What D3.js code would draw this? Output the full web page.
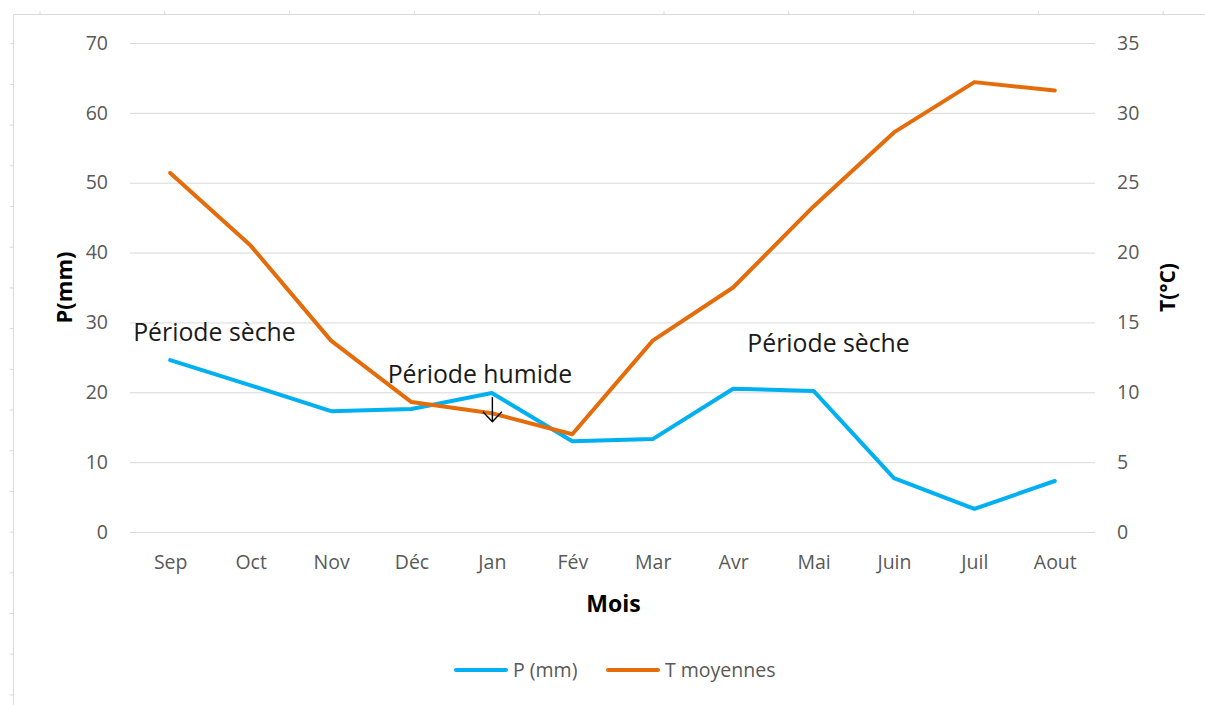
<!DOCTYPE html>
<html>
<head>
<meta charset="utf-8">
<script src="https://cdn.jsdelivr.net/npm/d3@7"></script>
<style>
  body { margin: 0; background: #fff; }
  svg text { font-family: "Open Sans", "Noto Sans", sans-serif; }
</style>
</head>
<body>
<div id="chart"></div>
<script>
const months = ["Sep", "Oct", "Nov", "Déc", "Jan", "Fév", "Mar", "Avr", "Mai", "Juin", "Juil", "Aout"]
const precip = [24.6, 21.0, 17.3, 17.6, 19.9, 13.0, 13.3, 20.5, 20.2, 7.7, 3.3, 7.3]
const temp = [25.7, 20.5, 13.7, 9.3, 8.5, 7.0, 13.7, 17.5, 23.3, 28.6, 32.2, 31.6]
const leftTicks = [0, 10, 20, 30, 40, 50, 60, 70]
const rightTicks = [0, 5, 10, 15, 20, 25, 30, 35]
// annotation baselines are given in P (mm) units
const notes = [
    {text: "Période sèche", month: "Sep", value: 27.3, anchor: "start", dx: -37},
    {text: "Période humide", month: "Jan", value: 21.3, anchor: "middle", dx: -12},
    {text: "Période sèche", month: "Mai", value: 25.8, anchor: "middle", dx: 15}
]

const W = 1205, H = 705
const margin = {top: 43, right: 110, bottom: 173, left: 130}
const width = W - margin.left - margin.right
const height = H - margin.top - margin.bottom

const blue = "#00b0f0"
const orange = "#e46c0a"
const grey = "#595959"
const tickFont = "19.5px"

const root = d3.select("#chart").append("svg")
    .attr("width", W)
    .attr("height", H)

// spreadsheet frame behind the chart
const frame = root.append("g").attr("stroke", "#d9d9d9").attr("fill", "none")
frame.append("path").attr("d", `M13.5,${H} V14.5 H${W}`)
d3.range(40, W, 124.8).forEach(x => {
    frame.append("line").attr("x1", x).attr("x2", x).attr("y1", 11).attr("y2", 14)
})
d3.range(43.7, H, 40.7).forEach(y => {
    frame.append("line").attr("x1", 10).attr("x2", 13).attr("y1", y).attr("y2", y)
})

const svg = root.append("g")
    .attr("transform", `translate(${margin.left}, ${margin.top})`)

const x = d3.scalePoint()
    .domain(months)
    .range([0, width])
    .padding(0.5)

const yP = d3.scaleLinear().domain([0, 70]).range([height, 0])
const yT = d3.scaleLinear().domain([0, 35]).range([height, 0])

// gridlines
svg.append("g")
    .selectAll("line")
    .data(leftTicks)
    .join("line")
    .attr("x1", 0)
    .attr("x2", width)
    .attr("y1", d => yP(d) + 0.5)
    .attr("y2", d => yP(d) + 0.5)
    .attr("stroke", "#d9d9d9")
    .attr("stroke-width", 1)

const leftAxis = svg.append("g")
    .call(d3.axisLeft(yP).tickValues(leftTicks).tickSize(0).tickPadding(22))
leftAxis.select(".domain").remove()
leftAxis.selectAll("text").attr("fill", grey).style("font-size", tickFont)

const rightAxis = svg.append("g")
    .attr("transform", `translate(${width}, 0)`)
    .call(d3.axisRight(yT).tickValues(rightTicks).tickSize(0).tickPadding(22))
rightAxis.select(".domain").remove()
rightAxis.selectAll("text").attr("fill", grey).style("font-size", tickFont)

const bottomAxis = svg.append("g")
    .attr("transform", `translate(0, ${height})`)
    .call(d3.axisBottom(x).tickSize(0).tickPadding(23))
bottomAxis.select(".domain").remove()
bottomAxis.selectAll("text").attr("fill", grey).style("font-size", tickFont)

// axis titles
svg.append("text")
    .attr("transform", `translate(-66, ${height / 2}) rotate(-90)`)
    .attr("text-anchor", "middle")
    .attr("dy", "0.35em")
    .style("font-size", "22px")
    .style("font-weight", "bold")
    .text("P(mm)")

svg.append("text")
    .attr("transform", `translate(${width + 73}, ${height / 2}) rotate(-90)`)
    .attr("text-anchor", "middle")
    .attr("dy", "0.35em")
    .style("font-size", "21px")
    .style("font-weight", "bold")
    .text("T(°C)")

svg.append("text")
    .attr("x", width / 2 + 1)
    .attr("y", height + 80)
    .attr("text-anchor", "middle")
    .style("font-size", "23px")
    .style("font-weight", "bold")
    .text("Mois")

// lines
const lineP = d3.line().x((d, i) => x(months[i])).y(d => yP(d))
const lineT = d3.line().x((d, i) => x(months[i])).y(d => yT(d))

svg.append("path")
    .datum(precip)
    .attr("d", lineP)
    .attr("fill", "none")
    .attr("stroke", blue)
    .attr("stroke-width", 4)
    .attr("stroke-linejoin", "round")
    .attr("stroke-linecap", "round")

svg.append("path")
    .datum(temp)
    .attr("d", lineT)
    .attr("fill", "none")
    .attr("stroke", orange)
    .attr("stroke-width", 4)
    .attr("stroke-linejoin", "round")
    .attr("stroke-linecap", "round")

// annotations
svg.selectAll(".note")
    .data(notes)
    .join("text")
    .attr("class", "note")
    .attr("x", d => x(d.month) + d.dx)
    .attr("y", d => yP(d.value))
    .attr("text-anchor", d => d.anchor)
    .attr("fill", "#1a1a1a")
    .style("font-size", "24.8px")
    .text(d => d.text)

// small arrow under "Période humide"
const ax = x("Jan") + 0.5
const arrow = svg.append("g")
    .attr("stroke", "#000")
    .attr("stroke-width", 1.4)
    .attr("fill", "none")
arrow.append("line")
    .attr("x1", ax).attr("x2", ax)
    .attr("y1", yP(19.3)).attr("y2", yP(15.8))
arrow.append("path")
    .attr("d", `M${ax - 9.5},${yP(17.2)} L${ax},${yP(15.8)} L${ax + 9.5},${yP(17.2)}`)

// legend
const legend = svg.append("g")
    .attr("transform", `translate(0, ${height + 138})`)
const legendItems = [
    {label: "P (mm)", color: blue, x: 326},
    {label: "T moyennes", color: orange, x: 478}
]
const li = legend.selectAll("g")
    .data(legendItems)
    .join("g")
    .attr("transform", d => `translate(${d.x}, 0)`)
li.append("line")
    .attr("x1", 0).attr("x2", 50)
    .attr("stroke", d => d.color)
    .attr("stroke-width", 4)
    .attr("stroke-linecap", "round")
li.append("text")
    .attr("x", 57)
    .attr("dy", "0.35em")
    .attr("fill", grey)
    .style("font-size", tickFont)
    .text(d => d.label)
</script>
</body>
</html>
